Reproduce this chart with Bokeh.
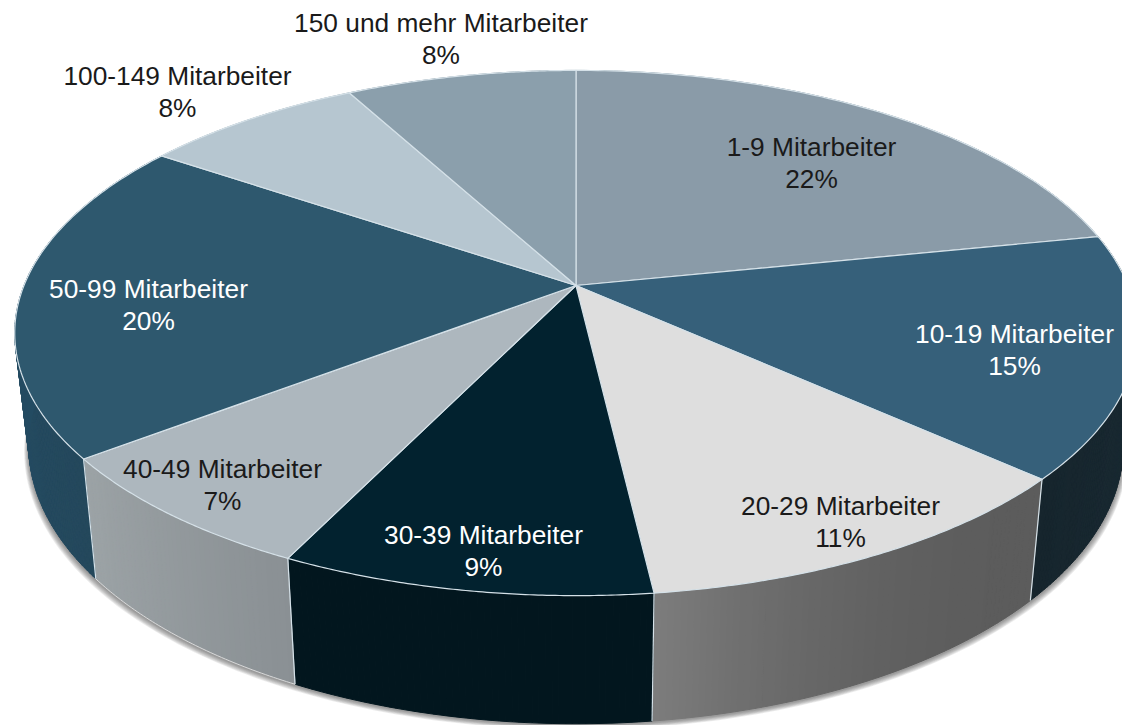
import numpy as np
from bokeh.plotting import figure
from bokeh.models import Range1d
from bokeh.core.properties import value
from bokeh.embed import file_html
from bokeh.resources import INLINE

# ---- data ----
categories = ["1-9 Mitarbeiter", "10-19 Mitarbeiter", "20-29 Mitarbeiter", "30-39 Mitarbeiter",
              "40-49 Mitarbeiter", "50-99 Mitarbeiter", "100-149 Mitarbeiter", "150 und mehr Mitarbeiter"]
shares = [21.8, 14.9, 11.45, 9.05, 7.4, 19.9, 7.6, 7.9]

# ---- styles ----
top_colors = ["#8a9ba8", "#36607a", "#dedede", "#02222f", "#adb7be", "#2e586e", "#b6c6d0", "#8b9fac"]
wall_start = ["#6f8290", "#1c2e37", "#5c5c5c", "#02161e", "#8a9094", "#24485c", "#8c9ca6", "#6f8290"]
wall_end = ["#6f8290", "#16252d", "#7d7d7d", "#02161e", "#9ca3a6", "#24506a", "#8c9ca6", "#6f8290"]
wall_gamma = [1, 1, 2.5, 1, 1, 1, 1, 1]
text_colors = ["#1a1a1a", "#ffffff", "#1a1a1a", "#ffffff", "#1a1a1a", "#ffffff", "#1a1a1a", "#1a1a1a"]
label_x = [811, 1014, 840, 483, 222, 148, 177, 440.5]
label_y = [146, 333, 505, 534, 468, 288, 75, 22]
LINE_GAP = 32
FONT = value("Liberation Sans")
FONT_SIZE = "26.3px"
EDGE = "#d5e1e8"

# ---- projection of the tilted disc ----
CX, CY = 575.5, 285.0
A, B, K = 552.0, 254.0, 0.181
SX, SY, DY = 0.975, 1.06, 92.4


def top(theta, r=1.0):
    u, v = r * np.sin(theta), r * np.cos(theta)
    w = 1 + K * v
    return CX + A * u / w, CY - B * v / w


def bottom(theta):
    x, y = top(theta)
    return CX + SX * (x - CX), SY * y + DY


def mix(c1, c2, t):
    a = [int(c1[i:i + 2], 16) for i in (1, 3, 5)]
    b = [int(c2[i:i + 2], 16) for i in (1, 3, 5)]
    return "#%02x%02x%02x" % tuple(int(round(p + (q - p) * t)) for p, q in zip(a, b))


edges = np.concatenate([[0], np.cumsum(shares)]) / np.sum(shares) * 2 * np.pi

p = figure(width=1122, height=725, output_backend="svg", toolbar_location=None,
           x_range=Range1d(0, 1122), y_range=Range1d(725, 0), min_border=0)
p.axis.visible = False
p.grid.visible = False
p.outline_line_color = None
p.background_fill_color = "#ffffff"
p.border_fill_color = "#ffffff"

# soft drop shadow beneath the disc
all_t = np.linspace(0, 2 * np.pi, 361)
bx, by = bottom(all_t)
for k in range(7, 0, -1):
    p.patch(CX + (bx - CX) * (1 + 0.0012 * k), by + 0.7 * k + 1, fill_color="#404040",
            fill_alpha=0.10, line_color=None)

# side walls
wx, wy, wc = [], [], []
for i in range(len(shares)):
    n = max(3, int((edges[i + 1] - edges[i]) / 0.01))
    ts = np.linspace(edges[i], edges[i + 1], n + 1)
    for j in range(n):
        x0, y0 = top(ts[j:j + 2])
        x1, y1 = bottom(ts[j:j + 2])
        wx.append(list(x0) + list(x1[::-1]))
        wy.append(list(y0) + list(y1[::-1]))
        wc.append(mix(wall_start[i], wall_end[i], ((j + 0.5) / n) ** wall_gamma[i]))
p.patches(wx, wy, fill_color=wc, line_color=wc, line_width=1)

# wall seams
sx, sy = [], []
for t in edges[:-1]:
    x0, y0 = top(t)
    x1, y1 = bottom(t)
    sx.append([x0, x1])
    sy.append([y0, y1])
p.multi_line(sx, sy, line_color=EDGE, line_width=1.2)
p.line(*bottom(np.linspace(edges[4], edges[5], 60)), line_color="#d9d9d9", line_width=1)

# top slices
tx, ty = [], []
for i in range(len(shares)):
    ts = np.linspace(edges[i], edges[i + 1], 90)
    x, y = top(ts)
    tx.append([CX] + list(x))
    ty.append([CY] + list(y))
p.patches(tx, ty, fill_color=top_colors, line_color=EDGE, line_width=1.2, line_join="round")

# labels
pct = [f"{round(v)}%" for v in shares]
p.text(label_x, label_y, text=categories, text_color=text_colors, text_font=FONT, text_font_size=FONT_SIZE,
       text_align="center", text_baseline="middle")
p.text(label_x, [y + LINE_GAP for y in label_y], text=pct, text_color=text_colors, text_font=FONT,
       text_font_size=FONT_SIZE, text_align="center", text_baseline="middle")

open("out.html", "w").write(file_html(p, INLINE))
